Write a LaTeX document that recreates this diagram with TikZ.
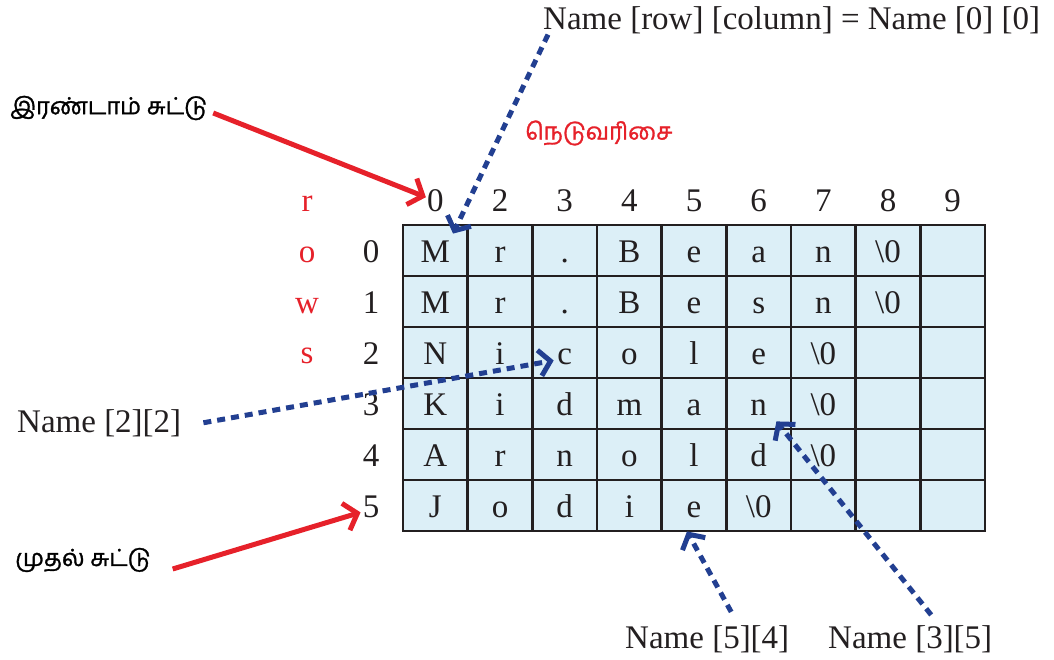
\documentclass[tikz,border=0pt]{standalone}
\usepackage{fontspec}
\setmainfont{Liberation Serif}
\newfontfamily\tamil[Script=Tamil,FakeBold=1.2]{Hind Madurai}
\usetikzlibrary{arrows.meta}
\definecolor{cellfill}{HTML}{DCEFF7}
\definecolor{gridc}{HTML}{231F20}
\definecolor{redc}{HTML}{E6212A}
\definecolor{bluec}{HTML}{223F91}
\newcommand\bz{\textbackslash 0}
\begin{document}
\begin{tikzpicture}[x=1pt,y=-1pt,
  lab/.style={font=\fontsize{33}{33}\selectfont, text=gridc, inner sep=0pt},
  redlab/.style={lab, text=redc},
  tam/.style={font=\tamil\fontsize{23.5}{23.5}\selectfont, inner sep=0pt},
  cell/.style={draw=gridc, line width=2.8pt, minimum width=64.667pt, minimum height=51pt,
    inner sep=0pt, text height=23pt, text depth=0pt, font=\fontsize{33}{33}\selectfont, text=gridc},
  rd/.style={draw=redc, line width=5pt, -{Straight Barb[length=12pt,width=28pt,line width=5pt]}},
  bl/.style={draw=bluec, line width=5pt, dash pattern=on 8pt off 6pt, -{Straight Barb[length=11pt,width=26pt,line width=5pt]}}]
\useasboundingbox (0,0) rectangle (1054,660);

% grid
\fill[cellfill] (403,225) rectangle (985,531);
\foreach \row [count=\r from 0] in {
  {M,r,{.},B,e,a,n,\bz,{}},
  {M,r,{.},B,e,s,n,\bz,{}},
  {N,i,c,o,l,e,\bz,{},{}},
  {K,i,d,m,a,n,\bz,{},{}},
  {A,r,n,o,l,d,\bz,{},{}},
  {J,o,d,i,e,\bz,{},{},{}}} {
  \foreach \t [count=\c from 0] in \row {
    \node[cell] (c-\r-\c) at ({435.333+64.667*\c},{250.5+51*\r}) {\t};
  }
}

% column labels
\foreach \l [count=\c from 0] in {0,2,3,4,5,6,7,8,9} {
  \node[lab, anchor=base] (col\c) at ({435.333+64.667*\c},212) {\l};
}
% row labels
\foreach \r in {0,...,5} {
  \node[lab, anchor=base] (row\r) at (371,{262+51*\r}) {\r};
}
% red "rows"
\foreach \l [count=\i from 0] in {r,o,w,s} {
  \node[redlab, anchor=base] (rows\i) at (307,{212+50.5*\i}) {\l};
}

% labels
\node[lab, anchor=base west] (top) at (543,30) {Name [row] [column] = Name [0] [0]};
\node[lab, anchor=base west] (n22) at (17,432) {Name [2][2]};
\node[lab, anchor=base west] (n54) at (625,648) {Name [5][4]};
\node[lab, anchor=base west] (n35) at (828,648) {Name [3][5]};
\node[tam, anchor=west] (t1) at (10,108) {இரண்டாம் சுட்டு};
\node[tam, anchor=west, text=redc] (t2) at (525,133) {நெடுவரிசை};
\node[tam, anchor=west] (t3) at (15,560) {முதல் சுட்டு};

% red arrows
\draw[rd] ([shift={(6,5)}]t1.east) -- ([shift={(-1,-4)}]col0.west);
\draw[rd] ([shift={(22,9)}]t3.east) -- ([shift={(-2,6)}]row5.west);

% blue arrows
\draw[bl] ([shift={(5,0)}]top.south west) -- ([shift={(-16,10)}]c-0-0.north east);
\draw[bl] ([shift={(22,0)}]n22.east) -- ([shift={(-11,8)}]c-2-2.center);
\draw[bl] ([shift={(24,-13)}]n54.north) -- ([shift={(-7,-1)}]c-5-4.south);
\draw[bl] ([shift={(21,-10)}]n35.north) -- ([shift={(-16,-9)}]c-3-5.south east);
\end{tikzpicture}
\end{document}
